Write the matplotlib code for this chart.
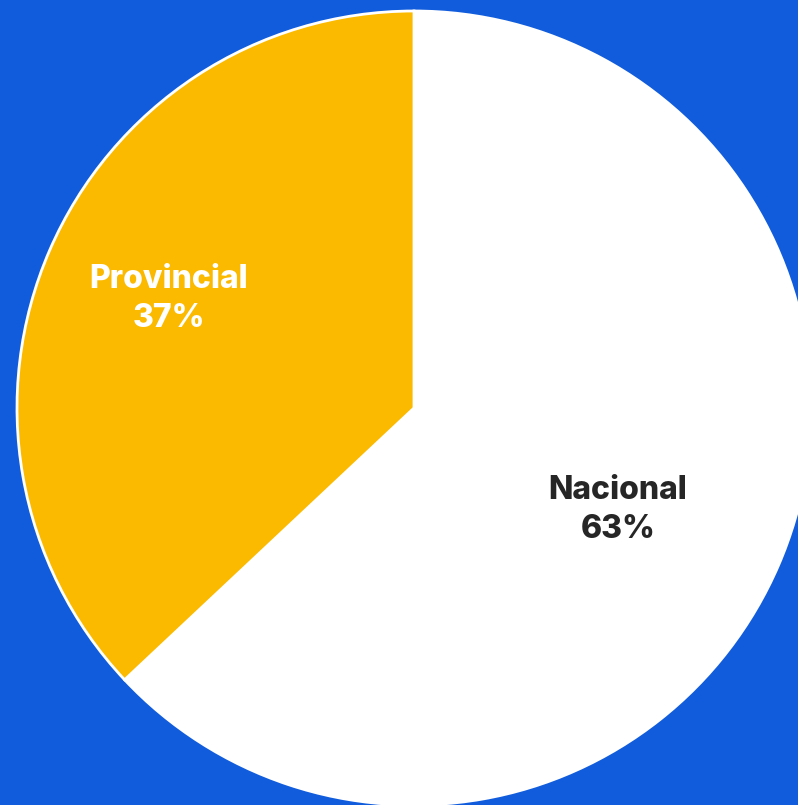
import matplotlib.pyplot as plt

labels = ["Nacional", "Provincial"]
values = [63, 37]
colors = ["#FFFFFF", "#FBBA00"]
text_colors = ["#262626", "#FFFFFF"]

W, H = 798, 805
fig = plt.figure(figsize=(W / 100, H / 100), dpi=100)
fig.patch.set_facecolor("#105CDC")
ax = fig.add_axes([0, 0, 1, 1])
ax.set_facecolor("#105CDC")

wedges, texts = ax.pie(values, colors=colors, startangle=90, counterclock=False,
                       center=(414, H - 408), radius=397, frame=True,
                       wedgeprops=dict(edgecolor="white", linewidth=2))

# label positions in pixel space
label_pos = [(618, H - 510), (169, H - 299)]
for lab, v, c, (x, y) in zip(labels, values, text_colors, label_pos):
    ax.text(x, y, f"{lab}\n{v}%", ha="center", va="center", color=c,
            fontsize=23, fontweight="heavy", family="Inter", linespacing=1.32)

ax.set_xlim(0, W)
ax.set_ylim(0, H)
ax.set_aspect("equal")
ax.axis("off")

fig.savefig("out.png", dpi=100, facecolor=fig.get_facecolor())
